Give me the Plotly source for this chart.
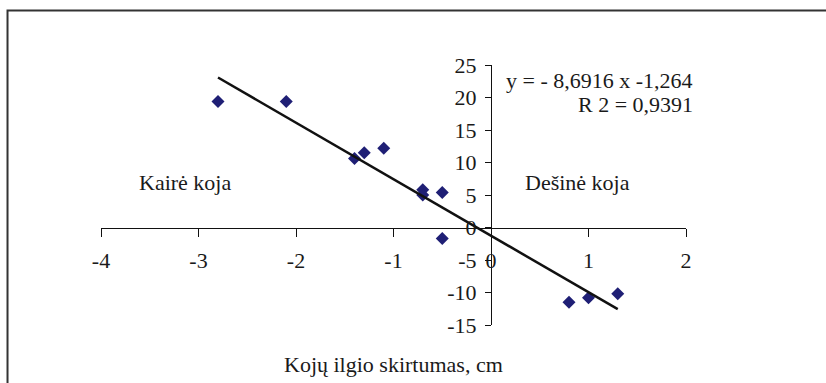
import plotly.graph_objects as go

# ---- data ----
diff_cm = [-2.8, -2.1, -1.4, -1.3, -1.1, -0.7, -0.7, -0.5, -0.5, 0.8, 1.0, 1.3]
values = [19.4, 19.4, 10.6, 11.5, 12.2, 5.8, 5.0, 5.4, -1.7, -11.5, -10.8, -10.2]
slope = -8.6916
intercept = -1.264
r2_text = "R 2 = 0,9391"
eq_text = "y = - 8,6916 x -1,264"
x_ticks = [-4, -3, -2, -1, 0, 1, 2]
y_ticks = [-15, -10, -5, 0, 5, 10, 15, 20, 25]
x_title = "Kojų ilgio skirtumas, cm"
left_label = "Kairė koja"
right_label = "Dešinė koja"

X_RANGE = [-4, 2]
Y_RANGE = [-15, 25]

trend_x = [min(diff_cm), max(diff_cm)]
trend_y = [slope * v + intercept for v in trend_x]

FONT = "Liberation Serif"
TXT = "#1a1a1a"
FS = 22

fig = go.Figure()
fig.add_trace(go.Scatter(x=diff_cm, y=values, mode="markers",
                         marker=dict(symbol="diamond", size=10, color="#1f1f75",
                                     line=dict(width=0)),
                         showlegend=False, cliponaxis=False))
fig.add_trace(go.Scatter(x=trend_x, y=trend_y, mode="lines",
                         line=dict(color="#111111", width=2.5),
                         showlegend=False, cliponaxis=False))

x_pos = (0 - Y_RANGE[0]) / (Y_RANGE[1] - Y_RANGE[0])
y_pos = (0 - X_RANGE[0]) / (X_RANGE[1] - X_RANGE[0])

fig.update_layout(
    width=826, height=383,
    margin=dict(l=101, r=140, t=65, b=58),
    paper_bgcolor="white", plot_bgcolor="white",
    font=dict(family=FONT, size=FS, color=TXT),
    xaxis=dict(range=X_RANGE, tickvals=x_ticks, ticktext=[str(v) for v in x_ticks],
               showgrid=False, zeroline=False, showline=True, linecolor="#111111",
               linewidth=1, ticks="outside", ticklen=8, tickcolor="#111111",
               anchor="free", position=x_pos, ticklabelstandoff=5,
               tickfont=dict(family=FONT, size=FS, color=TXT)),
    yaxis=dict(range=Y_RANGE, tickvals=y_ticks, ticktext=[str(v) for v in y_ticks],
               showgrid=False, zeroline=False, showline=True, linecolor="#111111",
               linewidth=1, ticks="outside", ticklen=6, tickcolor="#111111",
               anchor="free", position=y_pos, ticklabelstandoff=4,
               tickfont=dict(family=FONT, size=FS, color=TXT)),
)

fig.add_annotation(x=1.0154, y=0.9423, xref="paper", yref="paper", text=eq_text,
                   showarrow=False, xanchor="right", yanchor="middle", font=dict(size=FS))
fig.add_annotation(x=1.0154, y=0.8462, xref="paper", yref="paper", text=r2_text,
                   showarrow=False, xanchor="right", yanchor="middle", font=dict(size=FS))
fig.add_annotation(x=-3.14, y=7.0, xref="x", yref="y", text=left_label, showarrow=False,
                   xanchor="center", yanchor="middle", font=dict(size=FS))
fig.add_annotation(x=0.89, y=7.0, xref="x", yref="y", text=right_label, showarrow=False,
                   xanchor="center", yanchor="middle", font=dict(size=FS))
fig.add_annotation(x=0.5, y=-0.1538, xref="paper", yref="paper", text=x_title,
                   showarrow=False, xanchor="center", yanchor="middle", font=dict(size=FS))

# outer chart-area frame (partially cropped in the reference)
fig.add_shape(type="rect", xref="paper", yref="paper",
              x0=-0.1598, x1=1.4, y0=-0.6, y1=1.2096,
              line=dict(color="#333333", width=2), fillcolor="rgba(0,0,0,0)", layer="below")

fig.write_html("out.html")
